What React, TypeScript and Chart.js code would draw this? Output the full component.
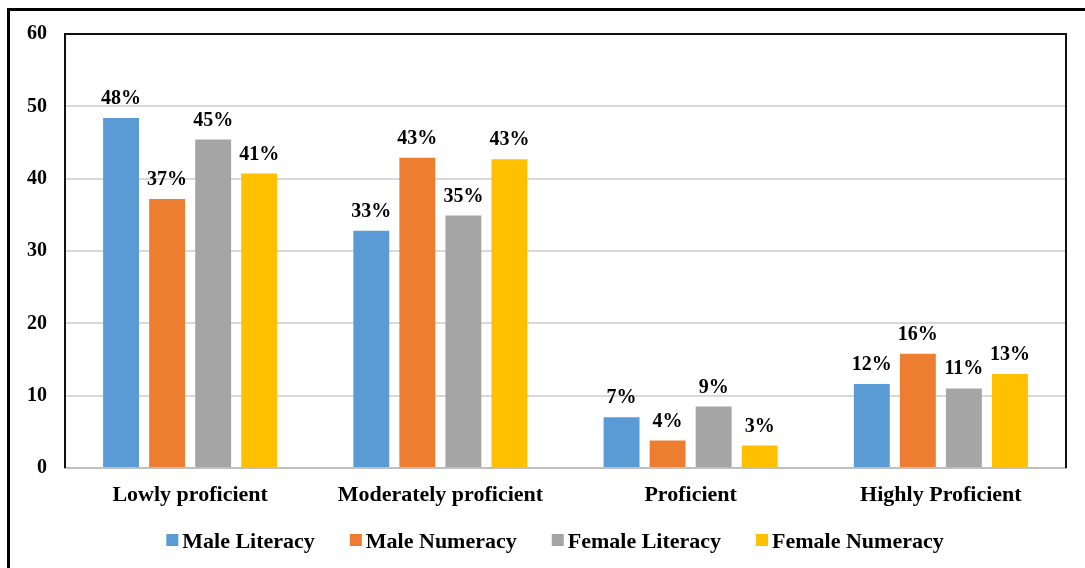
import React, { useEffect, useRef } from "react";
import { Chart, registerables } from "chart.js";

Chart.register(...registerables);

const categories = ["Lowly proficient", "Moderately proficient", "Proficient", "Highly Proficient"];
const maleLiteracy = [48.4, 32.8, 7.0, 11.6];
const maleNumeracy = [37.2, 42.9, 3.8, 15.8];
const femaleLiteracy = [45.4, 34.9, 8.5, 11.0];
const femaleNumeracy = [40.7, 42.7, 3.1, 13.0];
const seriesNames = ["Male Literacy", "Male Numeracy", "Female Literacy", "Female Numeracy"];
const seriesColors = ["#5B9BD5", "#ED7D31", "#A5A5A5", "#FFC000"];

const FONT = "'Liberation Serif', 'Times New Roman', serif";

// Percent labels above each bar
const valueLabels = {
  id: "valueLabels",
  afterDatasetsDraw(chart: any) {
    const ctx = chart.ctx;
    ctx.save();
    ctx.font = `bold 20px ${FONT}`;
    ctx.fillStyle = "#000";
    ctx.textAlign = "center";
    ctx.textBaseline = "alphabetic";
    chart.data.datasets.forEach((ds: any, i: number) => {
      const meta = chart.getDatasetMeta(i);
      meta.data.forEach((bar: any, j: number) => {
        const v = ds.data[j] as number;
        ctx.fillText(`${Math.round(v)}%`, bar.x, bar.y - 14);
      });
    });
    ctx.restore();
  },
};

// Dark frame on the top, left and right of the plot area
const plotFrame = {
  id: "plotFrame",
  afterDraw(chart: any) {
    const { ctx, chartArea } = chart;
    const { left, top, right, bottom } = chartArea;
    ctx.save();
    ctx.strokeStyle = "#111";
    ctx.lineWidth = 2;
    ctx.beginPath();
    ctx.moveTo(left, bottom);
    ctx.lineTo(left, top);
    ctx.lineTo(right, top);
    ctx.lineTo(right, bottom);
    ctx.stroke();
    ctx.restore();
  },
};

// Single-row legend with small square swatches under the axis labels
const bottomLegend = {
  id: "bottomLegend",
  afterDraw(chart: any) {
    const ctx = chart.ctx;
    const box = 12;
    const textGap = 4;
    const itemGap = 35;
    const centerX = 555;
    const baseY = 548;
    ctx.save();
    ctx.font = `bold 22px ${FONT}`;
    ctx.textBaseline = "alphabetic";
    ctx.textAlign = "left";
    const items = chart.data.datasets.map((ds: any) => ({
      label: ds.label as string,
      color: ds.backgroundColor as string,
      w: box + textGap + ctx.measureText(ds.label).width,
    }));
    const total = items.reduce((s: number, it: any) => s + it.w, 0) + itemGap * (items.length - 1);
    let x = centerX - total / 2;
    items.forEach((it: any) => {
      ctx.fillStyle = it.color;
      ctx.fillRect(x, baseY - 14, box, box);
      ctx.fillStyle = "#000";
      ctx.fillText(it.label, x + box + textGap, baseY);
      x += it.w + itemGap;
    });
    ctx.restore();
  },
};

export default function App() {
  const ref = useRef<HTMLCanvasElement | null>(null);

  useEffect(() => {
    if (!ref.current) return;
    const values = [maleLiteracy, maleNumeracy, femaleLiteracy, femaleNumeracy];
    const chart = new Chart(ref.current, {
      type: "bar",
      data: {
        labels: categories,
        datasets: seriesNames.map((name, i) => ({
          label: name,
          data: values[i],
          backgroundColor: seriesColors[i],
          borderWidth: 0,
          barPercentage: 0.78,
          categoryPercentage: 0.736,
        })),
      },
      options: {
        animation: false,
        responsive: false,
        maintainAspectRatio: false,
        layout: { padding: { left: 0, top: 34, right: 19, bottom: 40 } },
        plugins: {
          tooltip: { enabled: false },
          legend: { display: false },
        },
        scales: {
          x: {
            grid: { display: false },
            border: { display: true, color: "#BFBFBF", width: 2 },
            ticks: {
              font: { family: FONT, size: 22, weight: "bold" },
              color: "#000",
              padding: 6,
            },
            afterFit: (scale: any) => {
              scale.height = 60;
            },
          },
          y: {
            min: 0,
            max: 60,
            ticks: {
              stepSize: 10,
              font: { family: FONT, size: 20, weight: "bold" },
              color: "#000",
              padding: 18,
            },
            grid: { color: "#D9D9D9", lineWidth: 2, drawTicks: false },
            border: { display: false },
            afterFit: (scale: any) => {
              scale.width = 65;
            },
          },
        },
      },
      plugins: [valueLabels, plotFrame, bottomLegend],
    });
    return () => chart.destroy();
  }, []);

  return (
    <div style={{ position: "absolute", left: 0, top: 0, width: 1085, height: 568, background: "#fff", overflow: "hidden" }}>
      <div
        style={{
          position: "absolute",
          left: 7,
          top: 8,
          width: 1100,
          height: 600,
          borderTop: "3px solid #000",
          borderLeft: "3px solid #000",
        }}
      />
      <canvas ref={ref} width={1085} height={568} style={{ position: "absolute", left: 0, top: 0 }} />
    </div>
  );
}
